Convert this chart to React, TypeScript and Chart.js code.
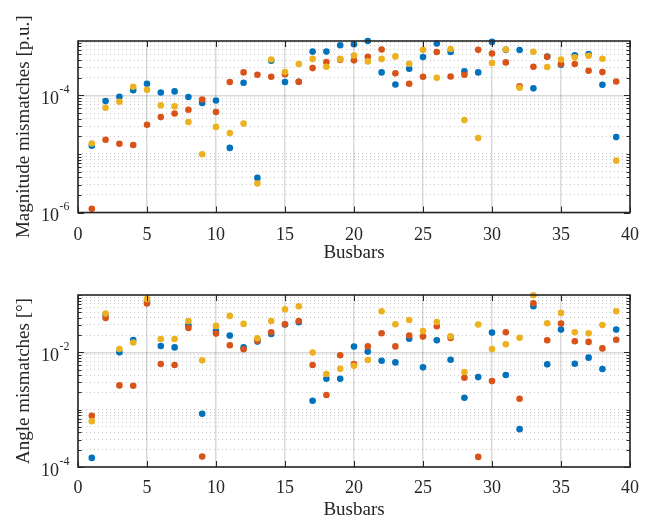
import React, { useEffect, useRef } from 'react';
import { Chart, registerables } from 'chart.js';
Chart.register(...registerables);

// ---------- data ----------
const busbars = [1,2,3,4,5,6,7,8,9,10,11,12,13,14,15,16,17,18,19,20,21,22,23,24,25,26,27,28,29,30,31,32,33,34,35,36,37,38,39];

const magBlue = [1.38e-5, 8.0e-5, 9.5e-5, 1.23e-4, 1.58e-4, 1.12e-4, 1.17e-4, 9.4e-5, 7.4e-5, 8.2e-5, 1.27e-5, 1.65e-4, 3.9e-6, 3.9e-4, 1.69e-4, 1.71e-4, 5.6e-4, 5.6e-4, 7.2e-4, 7.5e-4, 8.5e-4, 2.47e-4, 1.54e-4, 2.86e-4, 4.52e-4, 7.7e-4, 5.5e-4, 2.57e-4, 2.47e-4, 8.2e-4, 6.0e-4, 5.96e-4, 1.32e-4, 4.6e-4, 3.34e-4, 4.83e-4, 5.09e-4, 1.52e-4, 1.94e-5];
const magOrange = [1.16e-6, 1.75e-5, 1.49e-5, 1.42e-5, 3.15e-5, 4.26e-5, 4.9e-5, 5.7e-5, 8.5e-5, 5.2e-5, 1.69e-4, 2.47e-4, 2.26e-4, 2.08e-4, 2.3e-4, 1.71e-4, 2.93e-4, 3.7e-4, 4.07e-4, 3.97e-4, 4.58e-4, 6.1e-4, 2.38e-4, 1.58e-4, 2.08e-4, 5.5e-4, 2.11e-4, 2.26e-4, 6.0e-4, 5.2e-4, 3.66e-4, 1.43e-4, 3.09e-4, 4.58e-4, 3.43e-4, 3.43e-4, 2.64e-4, 2.5e-4, 1.73e-4];
const magYellow = [1.51e-5, 6.15e-5, 7.8e-5, 1.41e-4, 1.25e-4, 6.8e-5, 6.5e-5, 3.5e-5, 9.9e-6, 2.9e-5, 2.27e-5, 3.3e-5, 3.13e-6, 4.1e-4, 2.5e-4, 3.43e-4, 4.2e-4, 3.09e-4, 4.2e-4, 4.8e-4, 3.81e-4, 4.2e-4, 4.64e-4, 3.48e-4, 6.0e-4, 2.0e-4, 6.2e-4, 3.79e-5, 1.87e-5, 3.57e-4, 6.1e-4, 1.35e-4, 5.57e-4, 3.05e-4, 4.1e-4, 4.47e-4, 4.76e-4, 4.24e-4, 7.7e-6];

const angBlue = [1.44e-4, 4.5e-2, 1.0e-2, 1.64e-2, 7.8e-2, 1.29e-2, 1.22e-2, 2.96e-2, 8.5e-4, 2.36e-2, 1.96e-2, 1.22e-2, 1.54e-2, 2.09e-2, 3.05e-2, 3.34e-2, 1.43e-3, 3.46e-3, 3.46e-3, 1.26e-2, 1.03e-2, 7.15e-3, 6.68e-3, 1.73e-2, 5.47e-3, 1.62e-2, 7.44e-3, 1.61e-3, 3.7e-3, 2.21e-2, 4.02e-3, 4.57e-4, 6.37e-2, 6.17e-3, 2.49e-2, 6.34e-3, 8.07e-3, 5.11e-3, 2.49e-2];
const angOrange = [7.8e-4, 3.98e-2, 2.65e-3, 2.61e-3, 7.1e-2, 6.25e-3, 6.0e-3, 2.66e-2, 1.52e-4, 2.12e-2, 1.33e-2, 1.13e-2, 1.6e-2, 2.24e-2, 3.09e-2, 3.53e-2, 6.0e-3, 1.8e-3, 8.87e-3, 6.25e-3, 1.27e-2, 2.15e-2, 1.27e-2, 1.96e-2, 1.88e-2, 2.85e-2, 1.78e-2, 3.6e-3, 1.5e-4, 3.15e-3, 2.24e-2, 1.55e-3, 7.19e-2, 1.62e-2, 3.17e-2, 1.56e-2, 1.52e-2, 1.17e-2, 1.66e-2];
const angYellow = [6.3e-4, 4.74e-2, 1.14e-2, 1.48e-2, 8.55e-2, 1.71e-2, 1.71e-2, 3.53e-2, 7.25e-3, 2.89e-2, 4.32e-2, 3.13e-2, 1.76e-2, 3.53e-2, 5.65e-2, 6.37e-2, 9.9e-3, 4.18e-3, 5.18e-3, 5.85e-3, 7.34e-3, 5.21e-2, 3.09e-2, 3.67e-2, 2.36e-2, 3.39e-2, 1.9e-2, 4.53e-3, 3.05e-2, 1.14e-2, 1.38e-2, 1.8e-2, 9.9e-2, 3.21e-2, 4.87e-2, 2.24e-2, 2.15e-2, 3.0e-2, 5.21e-2];

const xTicks = [0, 5, 10, 15, 20, 25, 30, 35, 40];
const magTickExps = [-6, -4];
const angTickExps = [-4, -2];
const xTitle = 'Busbars';
const magTitle = 'Magnitude mismatches [p.u.]';
const angTitle = 'Angle mismatches [°]';

// ---------- styles ----------
const COLORS = ['#0072BD', '#D95319', '#EDB120'];
const TEXT = '#262626';
const FAMILY = '"Liberation Serif", "Times New Roman", serif';

function buildLogTicks(min: number, max: number) {
  const out: number[] = [];
  for (let d = Math.floor(Math.log10(min)); d <= Math.ceil(Math.log10(max)); d++) {
    for (let m = 1; m <= 9; m++) {
      const v = m * Math.pow(10, d);
      if (v >= min * 0.9999 && v <= max * 1.0001) out.push(v);
    }
  }
  return out;
}

function isMajor(v: number, exps: number[]) {
  const l = Math.log10(v);
  const r = Math.round(l);
  return Math.abs(l - r) < 1e-6 && exps.includes(r);
}

function framePlugin(exps: number[]) {
  return {
    id: 'frame',
    afterDraw(chart: any) {
      const { ctx, chartArea: a, scales } = chart;
      const x = scales.x, y = scales.y;
      ctx.save();
      ctx.strokeStyle = TEXT;
      ctx.lineWidth = 1;
      ctx.beginPath();
      for (const t of y.ticks) {
        const v = t.value;
        const py = Math.round(y.getPixelForValue(v)) + 0.5;
        const len = isMajor(v, exps) ? 6 : 3.5;
        ctx.moveTo(a.left, py); ctx.lineTo(a.left + len, py);
        ctx.moveTo(a.right, py); ctx.lineTo(a.right - len, py);
      }
      for (const v of xTicks) {
        const px = Math.round(x.getPixelForValue(v)) + 0.5;
        ctx.moveTo(px, a.bottom); ctx.lineTo(px, a.bottom - 6);
        ctx.moveTo(px, a.top); ctx.lineTo(px, a.top + 6);
      }
      ctx.stroke();
      ctx.lineWidth = 1.6;
      ctx.strokeRect(a.left, a.top, a.right - a.left, a.bottom - a.top);
      ctx.fillStyle = TEXT;
      for (const e of exps) {
        const py = y.getPixelForValue(Math.pow(10, e));
        ctx.font = `18px ${FAMILY}`;
        ctx.textAlign = 'right';
        ctx.textBaseline = 'middle';
        ctx.fillText('10', a.left - 19, py + 4);
        ctx.font = `12px ${FAMILY}`;
        ctx.textAlign = 'left';
        ctx.fillText(String(e), a.left - 18.5, py - 5.5);
      }
      ctx.restore();
    },
  };
}

function makeConfig(series: number[][], yMin: number, yMax: number, exps: number[], yTitle: string, padTop: number, xHeight: number, tickPad: number, titlePad: number) {
  const yTickVals = buildLogTicks(yMin, yMax);
  return {
    type: 'scatter',
    data: {
      datasets: series.map((vals, i) => ({
        data: busbars.map((b, j) => ({ x: b, y: vals[j] })),
        backgroundColor: COLORS[i],
        borderWidth: 0,
        pointRadius: 3.3,
        pointHoverRadius: 3.3,
        order: 2 - i,
        clip: false,
      })),
    },
    options: {
      animation: false,
      responsive: false,
      maintainAspectRatio: false,
      devicePixelRatio: 1,
      layout: { padding: { left: 0, right: 25, top: padTop, bottom: 0 } },
      plugins: { legend: { display: false }, tooltip: { enabled: false } },
      scales: {
        x: {
          type: 'linear',
          min: 0,
          max: 40,
          afterBuildTicks: (s: any) => { s.ticks = xTicks.map((v) => ({ value: v })); },
          ticks: { font: { family: FAMILY, size: 18 }, color: TEXT, padding: tickPad, maxRotation: 0, autoSkip: false },
          grid: { color: 'rgba(0,0,0,0.15)', lineWidth: 1.5, drawTicks: false },
          border: { display: false },
          title: { display: true, text: xTitle, font: { family: FAMILY, size: 19 }, color: TEXT, padding: { top: 0, bottom: titlePad } },
          afterFit: (s: any) => { s.height = xHeight; },
        },
        y: {
          type: 'logarithmic',
          min: yMin,
          max: yMax,
          afterBuildTicks: (s: any) => { s.ticks = yTickVals.map((v) => ({ value: v })); },
          ticks: { display: false, autoSkip: false },
          grid: {
            drawTicks: false,
            color: (c: any) => (c.tick && isMajor(c.tick.value, exps) ? 'rgba(0,0,0,0.15)' : 'rgba(0,0,0,0.22)'),
            lineWidth: (c: any) => (c.tick && isMajor(c.tick.value, exps) ? 1.5 : 1),
          },
          border: {
            display: false,
            dash: (c: any) => (c.tick && isMajor(c.tick.value, exps) ? [] : [1, 3]),
          },
          title: { display: true, text: yTitle, font: { family: FAMILY, size: 19 }, color: TEXT, padding: { top: 13, bottom: 0 } },
          afterFit: (s: any) => { s.width = 78; },
        },
      },
    },
    plugins: [framePlugin(exps)],
  };
}

export default function App() {
  const topRef = useRef<HTMLCanvasElement>(null);
  const botRef = useRef<HTMLCanvasElement>(null);
  useEffect(() => {
    const c1 = new Chart(topRef.current as any, makeConfig([magBlue, magOrange, magYellow], 1e-6, 8.5e-4, magTickExps, magTitle, 41, 48.5, 11.5, -3) as any);
    const c2 = new Chart(botRef.current as any, makeConfig([angBlue, angOrange, angYellow], 1e-4, 1e-1, angTickExps, angTitle, 34, 55, 10, 1) as any);
    return () => { c1.destroy(); c2.destroy(); };
  }, []);
  return (
    <div style={{ position: 'fixed', left: 0, top: 0, width: 655, height: 522, background: '#fff' }}>
      <canvas ref={topRef} width={655} height={261} style={{ display: 'block', width: 655, height: 261 }} />
      <canvas ref={botRef} width={655} height={261} style={{ display: 'block', width: 655, height: 261 }} />
    </div>
  );
}
